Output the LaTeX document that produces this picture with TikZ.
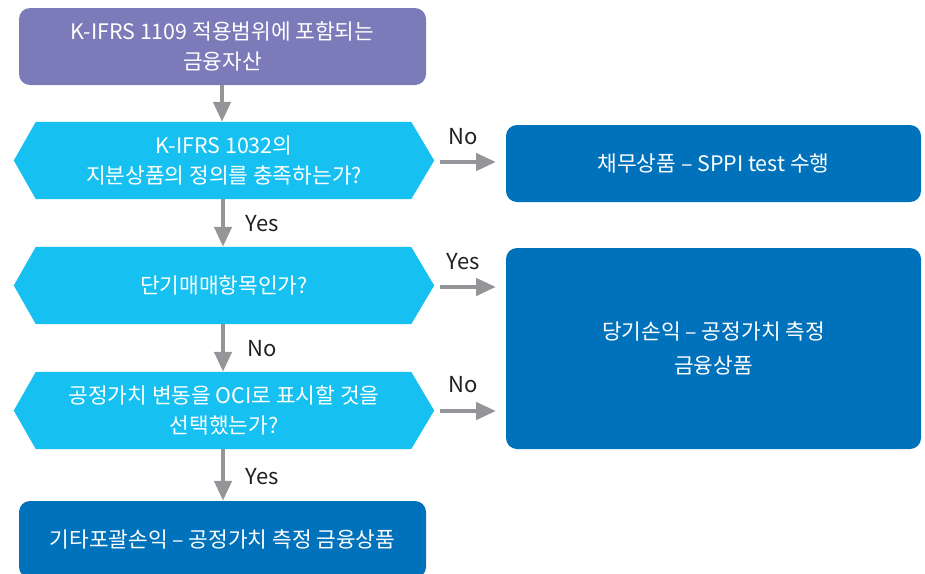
\documentclass[tikz,border=0pt]{standalone}
\usepackage{fontspec}
\setmainfont{Noto Sans CJK KR}
\usetikzlibrary{arrows.meta,backgrounds}
\definecolor{purplec}{HTML}{7C7BBA}
\definecolor{cyanc}{HTML}{16C1F1}
\definecolor{bluec}{HTML}{0071BB}
\definecolor{arrowc}{HTML}{939598}
\definecolor{labelc}{HTML}{231F20}
\tikzset{
  x=1pt, y=-1pt,
  boxtext/.style={text=white, font=\fontsize{21.4}{29.5}\selectfont, align=center, inner sep=0pt},
  roundbox/.style={boxtext, rounded corners=11pt, minimum width=#1},
  hexnode/.style={boxtext, minimum width=420pt, minimum height=77pt},
  flowarrow/.style={draw=arrowc, line width=4.5pt, -{Triangle[width=17pt,length=20pt]}},
  lbl/.style={text=labelc, font=\fontsize{22}{26}\selectfont, inner sep=0pt},
}
\newcommand{\hexfill}[1]{%
  \fill[cyanc] (#1.west) -- ([xshift=22pt]#1.north west) -- ([xshift=-23pt]#1.north east)
    -- (#1.east) -- ([xshift=-23pt]#1.south east) -- ([xshift=22pt]#1.south west) -- cycle;}
\begin{document}
\begin{tikzpicture}
\useasboundingbox (0,0) rectangle (925,573);
% top box
\node[roundbox=407pt, minimum height=77pt, fill=purplec] (top) at (222.5,46.5)
  {K-IFRS 1109 적용범위에 포함되는\\금융자산};
% hexagons
\node[hexnode] (h1) at (224,160.5) {K-IFRS 1032의\\지분상품의 정의를 충족하는가?};
\node[hexnode] (h2) at (224,285.5) {단기매매항목인가?};
\node[hexnode] (h3) at (224,410.5) {공정가치 변동을 OCI로 표시할 것을\\선택했는가?};
\begin{scope}[on background layer]
  \hexfill{h1}\hexfill{h2}\hexfill{h3}
\end{scope}
% bottom box
\node[roundbox=407pt, minimum height=77pt, fill=bluec] (oci) at (222.5,539.5)
  {기타포괄손익 – 공정가치 측정 금융상품};
% right boxes
\node[roundbox=415pt, minimum height=77pt, fill=bluec] (debt) at (713.5,163.5)
  {채무상품 – SPPI test 수행};
\node[roundbox=415pt, minimum height=201pt, fill=bluec, font=\fontsize{21.4}{34}\selectfont] (fvpl) at (713.5,348.5)
  {당기손익 – 공정가치 측정\\금융상품};
% vertical arrows
\draw[flowarrow] ([xshift=-0.5pt]top.south) -- ([xshift=-0.5pt]top.south |- h1.north);
\draw[flowarrow] ([xshift=-1pt]h1.south) -- ([xshift=-1pt]h2.north);
\draw[flowarrow] ([xshift=-1pt]h2.south) -- ([xshift=-1pt]h3.north);
\draw[flowarrow] ([xshift=-1pt]h3.south) -- ([xshift=-1pt]h3.south |- oci.north);
% horizontal arrows
\coordinate (a1) at (496,162);
\coordinate (a2) at (496,287);
\coordinate (a3) at (496,411);
\draw[flowarrow] ([xshift=6pt]h1.east |- a1) -- (a1);
\draw[flowarrow] ([xshift=6pt]h2.east |- a2) -- (a2);
\draw[flowarrow] ([xshift=6pt]h3.east |- a3) -- (a3);
% labels
\node[lbl] (l1) at (262,224) {Yes};
\node[lbl] (l2) at (262,349) {No};
\node[lbl] (l3) at (262,477) {Yes};
\node[lbl] (l4) at (463,137) {No};
\node[lbl] (l5) at (463,262) {Yes};
\node[lbl] (l6) at (463,385) {No};
\end{tikzpicture}
\end{document}
